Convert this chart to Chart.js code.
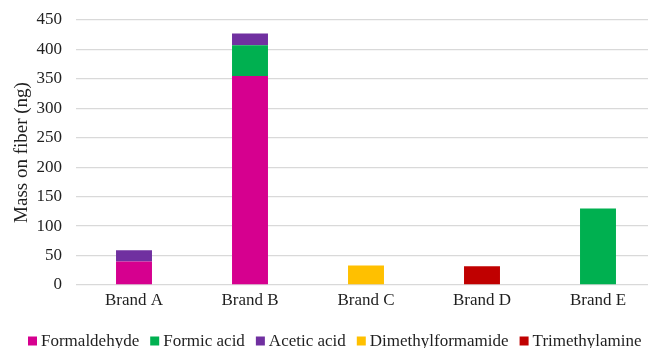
<!DOCTYPE html>
<html>
<head>
<meta charset="utf-8">
<script src="https://cdn.jsdelivr.net/npm/chart.js@4/dist/chart.umd.min.js"></script>
<style>
  html, body { margin: 0; padding: 0; background: #fff; overflow: hidden; }
  #wrap { width: 656px; height: 348px; }
</style>
</head>
<body>
<div id="wrap"><canvas id="c" width="656" height="348"></canvas></div>
<script>
// Mass of each compound collected on the fiber, per brand (ng)
const brands = ['Brand A', 'Brand B', 'Brand C', 'Brand D', 'Brand E'];
const formaldehyde      = [40, 355, null, null, null];
const formicAcid        = [null, 52, null, null, 130];
const aceticAcid        = [19, 20, null, null, null];
const dimethylformamide = [null, null, 33, null, null];
const trimethylamine    = [null, null, null, 32, null];
const yTicks = [0, 50, 100, 150, 200, 250, 300, 350, 400, 450];

const FONT = "'Liberation Serif', 'Times New Roman', serif";
const TEXT = '#1f1f1f';

const ds = (label, data, color) => ({
  label, data, backgroundColor: color, borderWidth: 0,
  barPercentage: 0.31, categoryPercentage: 1.0
});

// Compact single-row legend: small square, tight gap, then the series name
const compactLegend = {
  id: 'compactLegend',
  afterDraw(chart) {
    const ctx = chart.ctx;
    const box = 9, gapText = 4, gapItem = 11, yMid = 341, xStart = 28;
    ctx.save();
    ctx.font = '17px ' + FONT;
    ctx.textBaseline = 'middle';
    ctx.textAlign = 'left';
    let x = xStart;
    chart.data.datasets.forEach(d => {
      ctx.fillStyle = d.backgroundColor;
      ctx.fillRect(x, yMid - box / 2, box, box);
      x += box + gapText;
      ctx.fillStyle = TEXT;
      ctx.fillText(d.label, x, yMid + 1);
      x += ctx.measureText(d.label).width + gapItem;
    });
    ctx.restore();
  }
};

new Chart(document.getElementById('c'), {
  type: 'bar',
  data: {
    labels: brands,
    datasets: [
      ds('Formaldehyde', formaldehyde, '#D6008F'),
      ds('Formic acid', formicAcid, '#00B050'),
      ds('Acetic acid', aceticAcid, '#7030A0'),
      ds('Dimethylformamide', dimethylformamide, '#FFC000'),
      ds('Trimethylamine', trimethylamine, '#C00000')
    ]
  },
  options: {
    responsive: false,
    animation: false,
    layout: { padding: { top: 20, left: 11, right: 0, bottom: 33 } },
    plugins: {
      tooltip: { enabled: false },
      legend: { display: false }
    },
    scales: {
      x: {
        stacked: true,
        grid: { display: false, drawTicks: false },
        border: { display: false },
        afterFit: (s) => { s.height = 30; },
        ticks: { font: { family: FONT, size: 17 }, color: TEXT, padding: 5 }
      },
      y: {
        stacked: true,
        min: 0, max: 450,
        afterBuildTicks: (s) => { s.ticks = yTicks.map(v => ({ value: v })); },
        afterFit: (s) => { s.width = 65; s.paddingTop = 0; s.paddingBottom = 0; },
        grid: { color: '#d9d9d9', lineWidth: 1.3, drawTicks: false },
        border: { display: false },
        ticks: { font: { family: FONT, size: 17 }, color: TEXT, padding: 14 },
        title: {
          display: true,
          text: 'Mass on fiber (ng)',
          font: { family: FONT, size: 19 },
          color: TEXT,
          padding: 0
        }
      }
    }
  },
  plugins: [compactLegend]
});
</script>
</body>
</html>
